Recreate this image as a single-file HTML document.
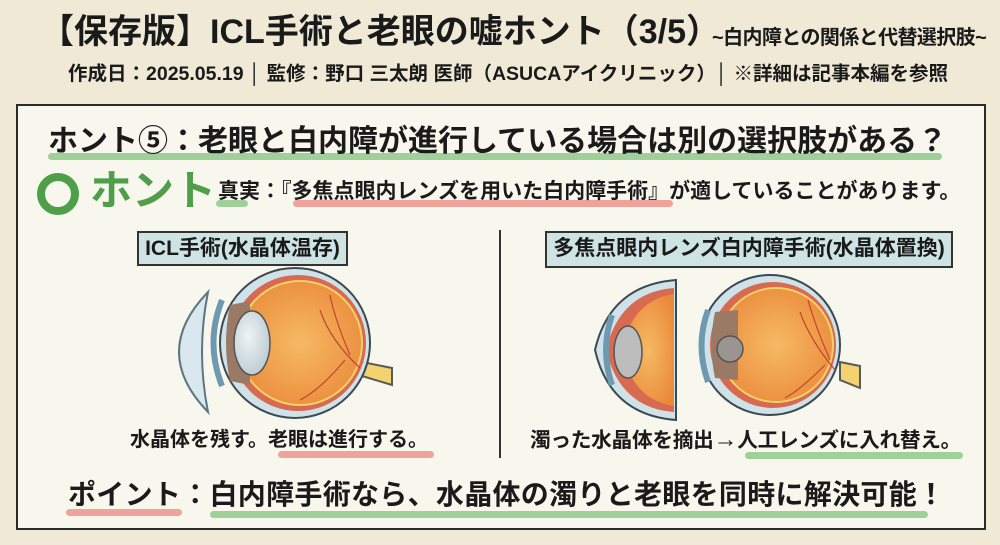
<!DOCTYPE html>
<html><head><meta charset="utf-8">
<style>
*{margin:0;padding:0;box-sizing:border-box}
body{width:1000px;height:545px;background:#efe9d6;position:relative;overflow:hidden;font-family:"Liberation Sans","Noto Sans CJK JP",sans-serif;color:#1a1a1a;font-weight:bold}
.a{position:absolute;white-space:nowrap;line-height:1}
.panel{position:absolute;left:16px;top:104px;width:970px;height:426px;background:#f8f7ee;border:2px solid #2a2a2a}
.ul{position:absolute;height:7px;border-radius:4px}
.g{background:#9fd09a}
.r{background:#f0a39a}
.lab{position:absolute;background:#cde3e4;border:2px solid #333;text-align:center;font-size:21px;line-height:32px}
</style></head><body>
<div class="a" style="left:40px;top:15px;font-size:34px;letter-spacing:0px">【保存版】ICL手術と老眼の嘘ホント（3/5）</div>
<div class="a" style="left:712px;top:28px;font-size:20px;letter-spacing:-0.6px">~白内障との関係と代替選択肢~</div>
<div class="a" style="left:68px;top:65px;font-size:19.5px;letter-spacing:0px">作成日：2025.05.19 │ 監修：野口 三太朗 医師（ASUCAアイクリニック）│ ※詳細は記事本編を参照</div>

<div class="panel"></div>
<div class="ul g" style="left:48px;top:153px;width:894px"></div>
<div class="a" style="left:48px;top:127px;font-size:30px;letter-spacing:0px">ホント⑤：老眼と白内障が進行している場合は別の選択肢がある？</div>

<div class="a" style="left:37px;top:173px;width:42px;height:42px;border:8px solid #4f9e4a;border-radius:50%"></div>
<div class="a" style="left:90px;top:170px;font-size:42px;color:#4f9e4a">ホント</div>
<div class="ul g" style="left:216px;top:200px;width:32px"></div>
<div class="ul r" style="left:293px;top:200px;width:380px"></div>
<div class="a" style="left:218px;top:181px;font-size:21px;letter-spacing:0px">真実：『多焦点眼内レンズを用いた白内障手術』が適していることがあります。</div>

<div class="lab" style="left:137px;top:231px;width:211px;height:35px">ICL手術(水晶体温存)</div>
<div class="lab" style="left:545px;top:231px;width:408px;height:37px">多焦点眼内レンズ白内障手術(水晶体置換)</div>
<div class="a" style="left:499px;top:230px;width:2px;height:228px;background:#333"></div>

<svg class="a" style="left:0;top:0" width="1000" height="545">
<defs>
<radialGradient id="og" cx="0.5" cy="0.5" r="0.6"><stop offset="0" stop-color="#f7b964"/><stop offset="1" stop-color="#e98a3a"/></radialGradient>
<radialGradient id="lg" cx="0.4" cy="0.4" r="0.7"><stop offset="0" stop-color="#eef4f6"/><stop offset="1" stop-color="#b8c8cf"/></radialGradient>
</defs>
<!-- left eye -->
<path d="M208 292 Q150 352 208 412 Q196 352 208 292Z" fill="#d9e8ee" stroke="#5c7782" stroke-width="2"/>
<path d="M362 362 L392 368 L392 385 L362 376Z" fill="#f3d270" stroke="#5a5a5a" stroke-width="2"/>
<circle cx="295" cy="343" r="75" fill="#cfe2ea" stroke="#3c4a50" stroke-width="2"/>
<circle cx="298" cy="343" r="68" fill="#d86a4f"/>
<circle cx="300" cy="343" r="62" fill="url(#og)" stroke="#f2d26a" stroke-width="2"/>
<path d="M230 305 Q222 343 230 381 L250 385 L250 301Z" fill="#9a7a64"/>
<ellipse cx="252" cy="343" rx="18" ry="32" fill="url(#lg)" stroke="#555" stroke-width="1.5"/>
<path d="M222 300 Q205 343 222 386" fill="none" stroke="#6d9ab0" stroke-width="6"/>
<path d="M360 368 Q330 340 320 310 M345 360 Q320 390 300 400 M350 355 Q335 320 330 295" fill="none" stroke="#c4452f" stroke-width="1.2"/>
<!-- right half eye -->
<path d="M676 280 Q610 285 595 350 Q610 415 676 420Z" fill="#cfe2ea" stroke="#3c4a50" stroke-width="2"/>
<path d="M674 288 Q620 292 606 350 Q620 408 674 412Z" fill="#d86a4f"/>
<path d="M674 294 Q632 300 622 350 Q632 400 674 406Z" fill="url(#og)"/>
<ellipse cx="628" cy="352" rx="14" ry="26" fill="#bcbcbc" stroke="#555" stroke-width="1.5"/>
<path d="M612 315 Q600 350 612 385" fill="none" stroke="#6d9ab0" stroke-width="6"/>
<!-- right full eye -->
<path d="M840 362 L860 366 L860 388 L840 380Z" fill="#f3d270" stroke="#5a5a5a" stroke-width="2"/>
<circle cx="770" cy="345" r="70" fill="#cfe2ea" stroke="#3c4a50" stroke-width="2"/>
<circle cx="773" cy="345" r="63" fill="#d86a4f"/>
<circle cx="776" cy="345" r="57" fill="url(#og)" stroke="#f2d26a" stroke-width="2"/>
<path d="M715 312 Q708 345 715 378 L738 380 L738 310Z" fill="#9a7a64"/>
<circle cx="730" cy="349" r="13" fill="#9a9590" stroke="#555" stroke-width="1.5"/>
<path d="M708 310 Q695 345 708 382" fill="none" stroke="#6d9ab0" stroke-width="6"/>
<path d="M835 370 Q810 340 800 312 M825 365 Q800 390 785 398 M830 360 Q815 325 808 300" fill="none" stroke="#c4452f" stroke-width="1.2"/>
</svg>

<div class="ul r" style="left:278px;top:451px;width:156px"></div>
<div class="a" style="left:130px;top:430px;font-size:20px">水晶体を残す。老眼は進行する。</div>
<div class="ul g" style="left:745px;top:452px;width:218px"></div>
<div class="a" style="left:530px;top:430px;font-size:20.7px;letter-spacing:-0.3px">濁った水晶体を摘出<span style="font-size:24px;line-height:20px">→</span>人工レンズに入れ替え。</div>

<div class="ul r" style="left:66px;top:509px;width:116px"></div>
<div class="ul g" style="left:210px;top:511px;width:718px"></div>
<div class="a" style="left:68px;top:481px;font-size:28px;letter-spacing:0.3px">ポイント：白内障手術なら、水晶体の濁りと老眼を同時に解決可能！</div>
</body></html>
